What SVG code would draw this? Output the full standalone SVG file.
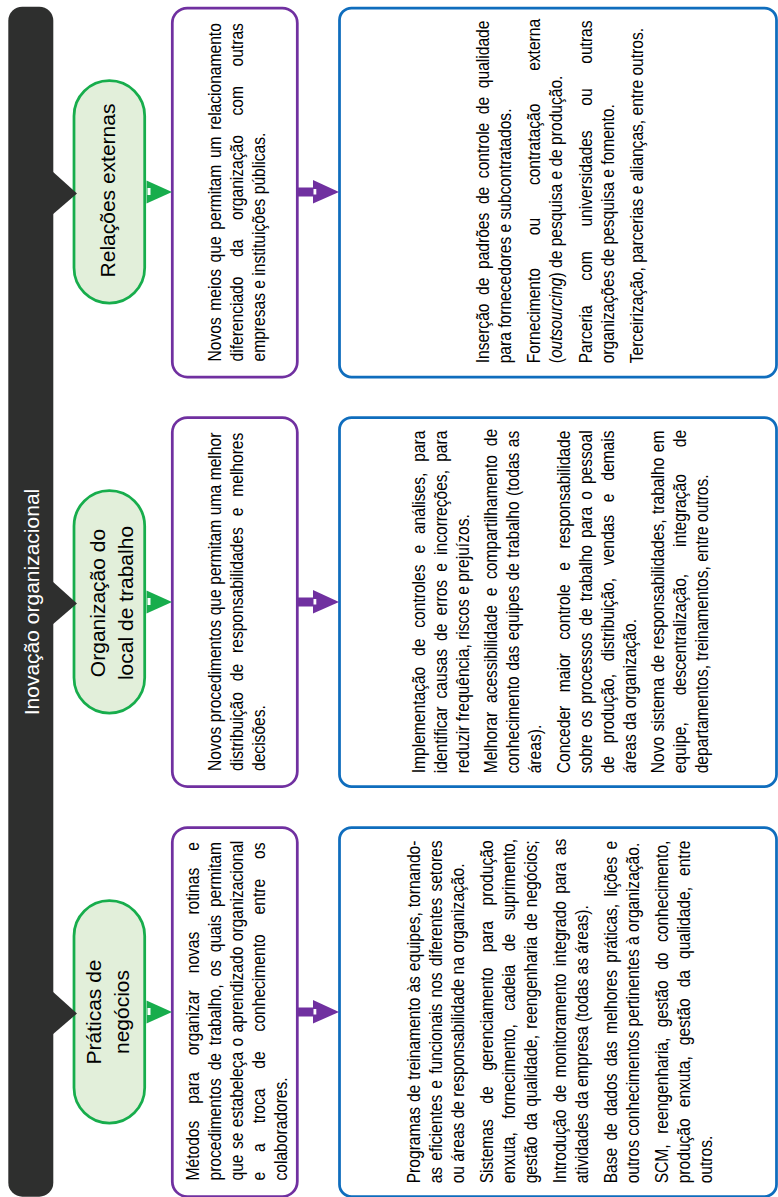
<svg xmlns="http://www.w3.org/2000/svg" xmlns:xlink="http://www.w3.org/1999/xlink" width="778" height="1197" viewBox="0 0 778 1197">
  <style>
    .bar{fill:#2e2f2e}
    .pill{fill:#e2efda;stroke:#17ad4c;stroke-width:2.75}
    .pbox{fill:#ffffff;stroke:#7030a0;stroke-width:2.75}
    .bbox{fill:#ffffff;stroke:#0f6dbd;stroke-width:2.75}
    .body{font-family:"Liberation Sans",Arial,Helvetica,sans-serif;font-size:18px;fill:#000000}
    .head{font-family:"Liberation Sans",Arial,Helvetica,sans-serif;font-size:21px;fill:#000000;text-anchor:middle}
    .title{font-family:"Liberation Sans",Arial,Helvetica,sans-serif;font-size:21px;fill:#ffffff;text-anchor:middle}
    .it{font-style:italic}
  </style>
  <defs>
    <!-- connector pieces, drawn about a row centre at y=0 -->
    <path id="darkTab" d="M52,-21 L77,1.5 L52,23 Z" fill="#2e2f2e"/>
    <g id="greenArrow">
      <path d="M146.5,-11.5 L172,0 L146.5,11.5 Z" fill="#17ad4c"/>
      <rect x="147.5" y="-4" width="3" height="7" fill="#ffffff"/>
    </g>
    <g id="purpleArrow">
      <rect x="298" y="-4.5" width="16" height="9" fill="#7030a0"/>
      <path d="M313,-12 L339,0 L313,11.5 Z" fill="#7030a0"/>
      <rect x="313.5" y="-3" width="2.8" height="5.5" fill="#ffffff"/>
    </g>
  </defs>

  <!-- main vertical bar -->
  <g id="root">
    <rect class="bar" x="8.3" y="6.7" width="45" height="1190" rx="14"/>
    <g transform="translate(0,602) rotate(-90)">
      <text class="title" x="0" y="38.5">Inovação organizacional</text>
    </g>
  </g>

  <!-- row 1: external relations -->
  <g id="relacoes-externas">
    <rect class="pill" x="74" y="80.7" width="70.7" height="222.3" rx="35.3"/>
    <g transform="translate(0,190.5) rotate(-90)">
      <text class="head" x="0" y="115">Relações externas</text>
    </g>
  </g>
  <g id="relacoes-desc">
    <rect class="pbox" x="172.3" y="8" width="125" height="369" rx="15"/>
    <g class="body" transform="translate(0,361.5) rotate(-90) scale(0.867,1)">
      <text x="0" y="221.5" word-spacing="2.7">Novos meios que permitam um relacionamento</text>
      <text x="0" y="243.5" word-spacing="17.6">diferenciado da organização com outras</text>
      <text x="0" y="265.5">empresas e instituições públicas.</text>
    </g>
  </g>
  <g id="relacoes-exemplos">
    <rect class="bbox" x="339.5" y="8" width="437" height="369" rx="12"/>
    <g class="body" transform="translate(0,363.3) rotate(-90) scale(0.867,1)">
      <text x="0" y="489" word-spacing="4.9">Inserção de padrões de controle de qualidade</text>
      <text x="0" y="511">para fornecedores e subcontratados.</text>
      <text x="0" y="540.5" word-spacing="32.8">Fornecimento ou contratação externa</text>
      <text x="0" y="562.5">(<tspan class="it">outsourcing</tspan>) de pesquisa e de produção.</text>
      <text x="0" y="592" word-spacing="23.4">Parceria com universidades ou outras</text>
      <text x="0" y="614">organizações de pesquisa e fomento.</text>
      <text x="0" y="643.5">Terceirização, parcerias e alianças, entre outros.</text>
    </g>
  </g>

  <!-- row 2: workplace organisation -->
  <g id="organizacao-trabalho">
    <rect class="pill" x="74" y="490.7" width="70.7" height="222.3" rx="35.3"/>
    <g transform="translate(0,603) rotate(-90)">
      <text class="head" x="0" y="105">Organização do</text>
      <text class="head" x="0" y="133">local de trabalho</text>
    </g>
  </g>
  <g id="organizacao-desc">
    <rect class="pbox" x="172.3" y="417.5" width="125" height="369" rx="15"/>
    <g class="body" transform="translate(0,771) rotate(-90) scale(0.867,1)">
      <text x="0" y="221.5" word-spacing="0.3">Novos procedimentos que permitam uma melhor</text>
      <text x="0" y="243.5" word-spacing="7.6">distribuição de responsabilidades e melhores</text>
      <text x="0" y="265.5">decisões.</text>
    </g>
  </g>
  <g id="organizacao-exemplos">
    <rect class="bbox" x="339.5" y="417.5" width="437" height="369" rx="12"/>
    <g class="body" transform="translate(0,773.3) rotate(-90) scale(0.867,1)">
      <text x="0" y="425" word-spacing="7.5">Implementação de controles e análises, para</text>
      <text x="0" y="447" word-spacing="4.4">identificar causas de erros e incorreções, para</text>
      <text x="0" y="469">reduzir frequência, riscos e prejuízos.</text>
      <text x="0" y="497.5" word-spacing="5.1">Melhorar acessibilidade e compartilhamento de</text>
      <text x="0" y="519.5" word-spacing="1.2">conhecimento das equipes de trabalho (todas as</text>
      <text x="0" y="541.5">áreas).</text>
      <text x="0" y="570" word-spacing="10.6">Conceder maior controle e responsabilidade</text>
      <text x="0" y="592" word-spacing="3.1">sobre os processos de trabalho para o pessoal</text>
      <text x="0" y="614" word-spacing="9.7">de produção, distribuição, vendas e demais</text>
      <text x="0" y="636">áreas da organização.</text>
      <text x="0" y="664.5" word-spacing="1.3">Novo sistema de responsabilidades, trabalho em</text>
      <text x="0" y="686.5" word-spacing="26.1">equipe, descentralização, integração de</text>
      <text x="0" y="708.5">departamentos, treinamentos, entre outros.</text>
    </g>
  </g>

  <!-- row 3: business practices -->
  <g id="praticas-negocios">
    <rect class="pill" x="74" y="900.7" width="70.7" height="222.3" rx="35.3"/>
    <g transform="translate(0,1012) rotate(-90)">
      <text class="head" x="0" y="101">Práticas de</text>
      <text class="head" x="0" y="129">negócios</text>
    </g>
  </g>
  <g id="praticas-desc">
    <rect class="pbox" x="172.3" y="827.5" width="125" height="369" rx="15"/>
    <g class="body" transform="translate(0,1180.5) rotate(-90) scale(0.867,1)">
      <text x="0" y="199.5" word-spacing="14.7">Métodos para organizar novas rotinas e</text>
      <text x="0" y="221.5" word-spacing="4.1">procedimentos de trabalho, os quais permitam</text>
      <text x="0" y="243.5" word-spacing="1.2">que se estabeleça o aprendizado organizacional</text>
      <text x="0" y="265.5" word-spacing="18">e a troca de conhecimento entre os</text>
      <text x="0" y="287.5">colaboradores.</text>
    </g>
  </g>
  <g id="praticas-exemplos">
    <rect class="bbox" x="339.5" y="827.5" width="437" height="369" rx="12"/>
    <g class="body" transform="translate(0,1183.3) rotate(-90) scale(0.867,1)">
      <text x="0" y="420" word-spacing="0.7">Programas de treinamento às equipes, tornando-</text>
      <text x="0" y="442" word-spacing="2.1">as eficientes e funcionais nos diferentes setores</text>
      <text x="0" y="464">ou áreas de responsabilidade na organização.</text>
      <text x="0" y="493" word-spacing="12.9">Sistemas de gerenciamento para produção</text>
      <text x="0" y="515" word-spacing="10.6">enxuta, fornecimento, cadeia de suprimento,</text>
      <text x="0" y="537" word-spacing="2.1">gestão da qualidade, reengenharia de negócios;</text>
      <text x="0" y="566" word-spacing="3.5">Introdução de monitoramento integrado para as</text>
      <text x="0" y="588">atividades da empresa (todas as áreas).</text>
      <text x="0" y="617" word-spacing="3.3">Base de dados das melhores práticas, lições e</text>
      <text x="0" y="639">outros conhecimentos pertinentes à organização.</text>
      <text x="0" y="668" word-spacing="7.1">SCM, reengenharia, gestão do conhecimento,</text>
      <text x="0" y="690" word-spacing="7.7">produção enxuta, gestão da qualidade, entre</text>
      <text x="0" y="712">outros.</text>
    </g>
  </g>

  <!-- connectors: bar tabs, green and purple block arrows -->
  <g id="connectors">
    <use xlink:href="#darkTab" x="0" y="192"/>
    <use xlink:href="#darkTab" x="0" y="602"/>
    <use xlink:href="#darkTab" x="0" y="1012"/>
    <use xlink:href="#greenArrow" x="0" y="192"/>
    <use xlink:href="#greenArrow" x="0" y="602"/>
    <use xlink:href="#greenArrow" x="0" y="1012"/>
    <use xlink:href="#purpleArrow" x="0" y="192"/>
    <use xlink:href="#purpleArrow" x="0" y="602"/>
    <use xlink:href="#purpleArrow" x="0" y="1012"/>
  </g>
</svg>
